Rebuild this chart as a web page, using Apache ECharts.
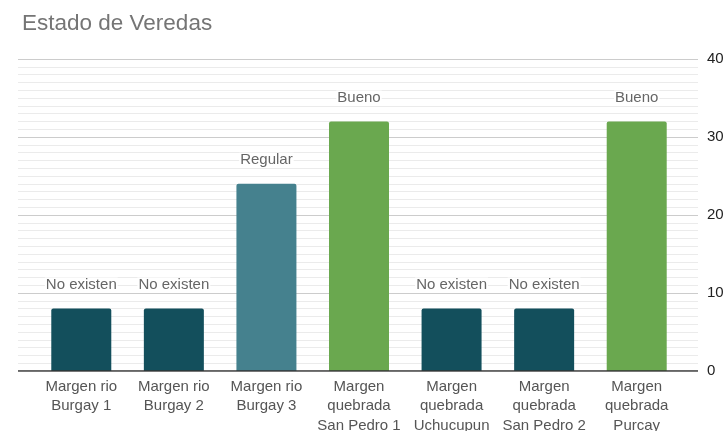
<!DOCTYPE html>
<html>
<head>
<meta charset="utf-8">
<script src="https://cdn.jsdelivr.net/npm/echarts@6/dist/echarts.min.js"></script>
<style>
  html, body { margin: 0; padding: 0; background: #fff; }
  #chart { width: 726px; height: 431px; }
</style>
</head>
<body>
<div id="chart"></div>
<script>
// datos del grafico
const categories = [
    'Margen rio\nBurgay 1',
    'Margen rio\nBurgay 2',
    'Margen rio\nBurgay 3',
    'Margen\nquebrada\nSan Pedro 1',
    'Margen\nquebrada\nUchucupun',
    'Margen\nquebrada\nSan Pedro 2',
    'Margen\nquebrada\nPurcay'
];
const values = [8, 8, 24, 32, 8, 8, 32];
const estados = ['No existen', 'No existen', 'Regular', 'Bueno', 'No existen', 'No existen', 'Bueno'];
const yTicks = [0, 10, 20, 30, 40];

const estadoColor = { 'No existen': '#134f5c', 'Regular': '#45818e', 'Bueno': '#6aa84f' };
const FONT = '"Liberation Sans", Arial, sans-serif';

const chart = echarts.init(document.getElementById('chart'));

chart.setOption({
    animation: false,
    title: {
        text: 'Estado de Veredas',
        left: 17,
        top: 7,
        textStyle: { fontFamily: FONT, fontSize: 22.5, fontWeight: 'normal', color: '#757575' }
    },
    grid: [
        // rejilla ancha solo para las lineas de fondo y el eje derecho
        { left: 18, right: 28, top: 59, bottom: 60, outerBoundsMode: 'none' },
        // rejilla de las barras
        { left: 35, right: 43, top: 59, bottom: 60, outerBoundsMode: 'none' }
    ],
    xAxis: [
        { gridIndex: 0, type: 'value', min: 0, max: 1, show: false },
        {
            gridIndex: 1,
            type: 'category',
            data: categories,
            axisTick: { show: false },
            axisLine: { show: false },
            axisLabel: {
                interval: 0,
                margin: 6,
                fontFamily: FONT,
                fontSize: 15,
                lineHeight: 19.5,
                color: '#555'
            }
        }
    ],
    yAxis: [
        {
            gridIndex: 0,
            type: 'value',
            position: 'right',
            min: yTicks[0],
            max: yTicks[yTicks.length - 1],
            interval: 10,
            axisLine: { show: true, onZero: false, lineStyle: { color: 'transparent' } },
            axisTick: { show: false },
            axisLabel: { margin: 9, fontFamily: FONT, fontSize: 15, color: '#222' },
            splitLine: { show: true, lineStyle: { color: '#cccccc', width: 1 } },
            minorTick: { show: false, splitNumber: 10 },
            minorSplitLine: { show: true, lineStyle: { color: '#ebebeb', width: 1 } }
        },
        { gridIndex: 1, type: 'value', min: 0, max: 40, show: false }
    ],
    series: [
        {
            type: 'bar',
            xAxisIndex: 1,
            yAxisIndex: 1,
            barWidth: 60,
            data: values.map((v, i) => ({
                value: v,
                itemStyle: { color: estadoColor[estados[i]], borderRadius: [2, 2, 0, 0] }
            })),
            label: {
                show: true,
                position: 'top',
                distance: 16,
                fontFamily: FONT,
                fontSize: 15,
                color: '#666',
                backgroundColor: '#fff',
                padding: [0, 1],
                formatter: (p) => estados[p.dataIndex]
            }
        },
        {
            // linea base en cero
            type: 'line',
            xAxisIndex: 0,
            yAxisIndex: 0,
            data: [[0, 0], [1, 0]],
            symbol: 'none',
            silent: true,
            lineStyle: { color: '#333', width: 1.5 },
            z: 5
        }
    ]
});
</script>
</body>
</html>
